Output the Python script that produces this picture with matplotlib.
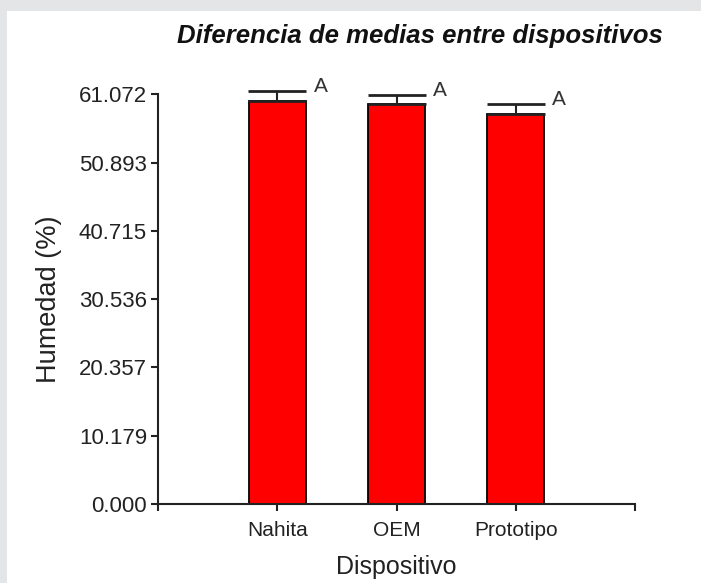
import matplotlib
matplotlib.use("Agg")
from matplotlib import pyplot as plt
from matplotlib.patches import Rectangle
import numpy as np

plt.rcParams['font.family'] = ['Liberation Sans', 'DejaVu Sans']

# Data
dispositivos = ['Nahita', 'OEM', 'Prototipo']
medias = [60.0, 59.7, 58.2]
errores = [1.6, 1.2, 1.4]
letras = ['A', 'A', 'A']
yticks = [0.000, 10.179, 20.357, 30.536, 40.715, 50.893, 61.072]

fig = plt.figure(figsize=(7.01, 5.83), dpi=100)
fig.patch.set_facecolor('white')

# grey strips on the left and top edge
fig.add_artist(Rectangle((0, 0), 7 / 701, 1, transform=fig.transFigure,
                         facecolor='#e4e5e7', edgecolor='none', zorder=0))
fig.add_artist(Rectangle((0, 1 - 11 / 583), 1, 11 / 583, transform=fig.transFigure,
                         facecolor='#e4e5e7', edgecolor='none', zorder=0))

ax = fig.add_axes([158 / 701, 79 / 583, 477 / 701, 409.7 / 583])

x = np.arange(len(dispositivos))
ax.bar(x, medias, width=0.48, color='#ff0000', edgecolor='black', linewidth=1.3, zorder=2)
eb = ax.errorbar(x, medias, yerr=[np.zeros(len(errores)), errores], fmt='none',
                 ecolor='#222222', elinewidth=1.5, capsize=21, capthick=2, zorder=3)
for art in eb.lines[1] + eb.lines[2]:
    art.set_clip_on(False)

# significance letters next to the caps
for xi, m, e, l in zip(x, medias, errores, letras):
    ax.annotate(l, xy=(xi + 0.24, m + e), xytext=(8, -1), textcoords='offset pixels',
                ha='left', va='baseline', fontsize=15, color='#333333',
                annotation_clip=False)

ax.set_xlim(-1, 3)
ax.set_ylim(0, 61.072)

ax.set_yticks(yticks)
ax.set_yticklabels(['%.3f' % v for v in yticks])
ax.set_xticks([-1, 0, 1, 2, 3])
ax.set_xticklabels([''] + dispositivos + [''])

for s in ['top', 'right']:
    ax.spines[s].set_visible(False)
for s in ['left', 'bottom']:
    ax.spines[s].set_linewidth(1.5)
    ax.spines[s].set_color('#222222')

ax.tick_params(axis='y', direction='out', length=5, width=1.5, pad=3,
               labelsize=16, colors='#222222')
ax.tick_params(axis='x', direction='out', length=5, width=1.5, pad=7,
               labelsize=15, colors='#222222')

ax.set_ylabel('Humedad (%)', fontsize=19.5, color='#222222', labelpad=12)
ax.set_xlabel('Dispositivo', fontsize=18, color='#222222', labelpad=11)

fig.text(420 / 701, 1 - 43 / 583, 'Diferencia de medias entre dispositivos',
         ha='center', va='baseline', fontsize=18.5, fontweight='bold',
         fontstyle='italic', color='#111111')

fig.savefig('out.png', dpi=100)
